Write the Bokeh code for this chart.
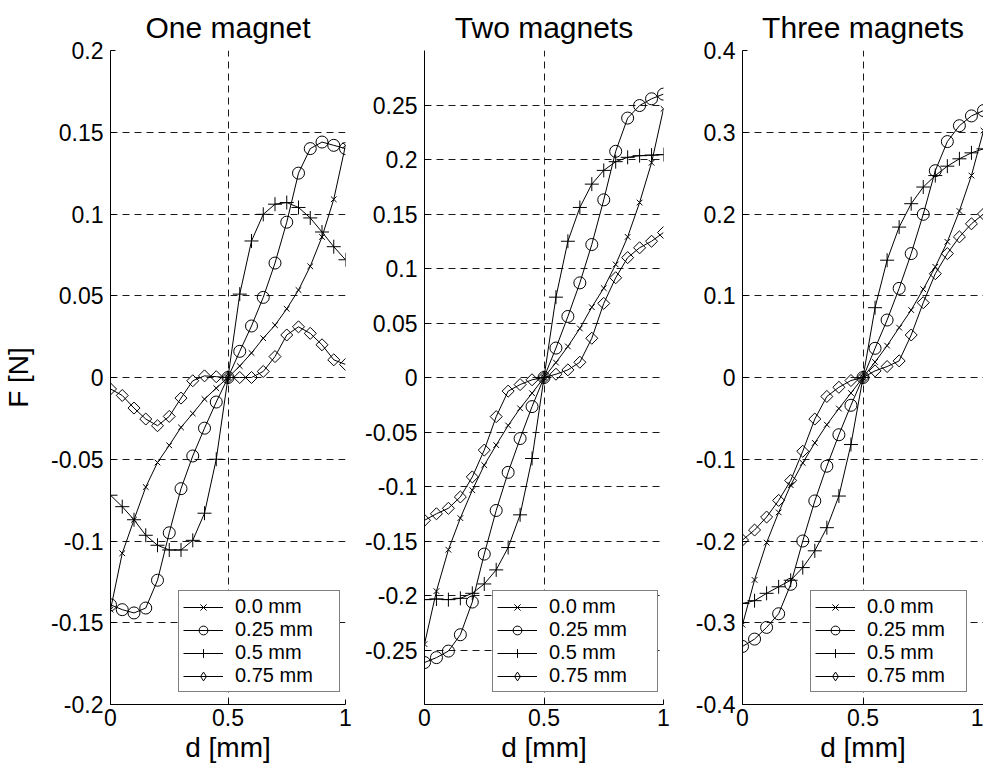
from bokeh.plotting import figure
from bokeh.layouts import row
from bokeh.models import Range1d, FixedTicker, Legend, LegendItem, CDSView, IndexFilter
from bokeh.embed import file_html
from bokeh.resources import INLINE

# ---------------- data ----------------
d = [0.0, 0.05, 0.1, 0.15, 0.2, 0.25, 0.3, 0.35, 0.4, 0.45, 0.5,
     0.55, 0.6, 0.65, 0.7, 0.75, 0.8, 0.85, 0.9, 0.95, 1.0]

series_labels = ["0.0 mm", "0.25 mm", "0.5 mm", "0.75 mm"]

# One magnet
one_00 = [-0.142, -0.1075, -0.087, -0.067, -0.052, -0.0415, -0.0305, -0.022, -0.0132, -0.0065, 0.0,
          0.007, 0.015, 0.024, 0.032, 0.042, 0.0535, 0.068, 0.086, 0.109, 0.142]
one_25 = [-0.139, -0.142, -0.144, -0.141, -0.124, -0.095, -0.068, -0.048, -0.031, -0.015, 0.0,
          0.016, 0.0315, 0.049, 0.07, 0.095, 0.125, 0.14, 0.144, 0.142, 0.14]
one_50 = [-0.072, -0.079, -0.087, -0.0965, -0.1026, -0.1055, -0.1055, -0.0996, -0.083, -0.05, 0.0,
          0.051, 0.0835, 0.0998, 0.106, 0.107, 0.104, 0.0976, 0.089, 0.080, 0.072]
one_75 = [-0.007, -0.011, -0.0187, -0.0254, -0.0295, -0.0238, -0.0126, -0.002, 0.001, 0.0005, 0.0,
          0.0, 0.0, 0.0037, 0.0128, 0.026, 0.031, 0.027, 0.02, 0.0108, 0.008]

# Two magnets
two_00 = [-0.2446, -0.196, -0.158, -0.129, -0.1034, -0.0804, -0.062, -0.044, -0.0283, -0.0144, 0.0,
          0.0137, 0.0285, 0.045, 0.0645, 0.082, 0.1037, 0.129, 0.1605, 0.197, 0.2465]
two_25 = [-0.2615, -0.257, -0.251, -0.236, -0.206, -0.162, -0.122, -0.087, -0.056, -0.0267, 0.0,
          0.027, 0.056, 0.0868, 0.122, 0.163, 0.2075, 0.238, 0.2495, 0.2557, 0.26]
two_50 = [-0.2038, -0.2032, -0.2038, -0.2026, -0.198, -0.1894, -0.1765, -0.156, -0.126, -0.0743, 0.0,
          0.0737, 0.125, 0.156, 0.1774, 0.19, 0.198, 0.202, 0.2035, 0.204, 0.2045]
two_75 = [-0.131, -0.125, -0.12, -0.1096, -0.0912, -0.0666, -0.0359, -0.0125, -0.0065, -0.0021, 0.0,
          0.003, 0.007, 0.014, 0.036, 0.068, 0.0915, 0.11, 0.119, 0.125, 0.133]

# Three magnets
three_00 = [-0.3024, -0.2476, -0.202, -0.165, -0.1317, -0.1045, -0.08, -0.0577, -0.038, -0.019, 0.0,
            0.019, 0.039, 0.061, 0.0825, 0.108, 0.1354, 0.166, 0.2037, 0.247, 0.302]
three_25 = [-0.329, -0.32, -0.3057, -0.289, -0.253, -0.2, -0.151, -0.1085, -0.07, -0.034, 0.0,
            0.0357, 0.0703, 0.109, 0.1516, 0.1996, 0.253, 0.2886, 0.308, 0.32, 0.3265]
three_50 = [-0.2764, -0.273, -0.264, -0.256, -0.248, -0.2325, -0.212, -0.1837, -0.145, -0.082, 0.0,
            0.0854, 0.1435, 0.184, 0.2126, 0.233, 0.247, 0.2585, 0.2675, 0.2748, 0.2797]
three_75 = [-0.1988, -0.1866, -0.1707, -0.1504, -0.126, -0.0902, -0.0508, -0.0232, -0.012, -0.0037, 0.0,
            0.0081, 0.0134, 0.0203, 0.052, 0.0915, 0.127, 0.1516, 0.172, 0.188, 0.2]

x_ticks = [0, 0.5, 1]
x_tick_labels = ["0", "0.5", "1"]

one_yticks = [-0.2, -0.15, -0.1, -0.05, 0, 0.05, 0.1, 0.15, 0.2]
one_ylabels = ["-0.2", "-0.15", "-0.1", "-0.05", "0", "0.05", "0.1", "0.15", "0.2"]
two_yticks = [-0.25, -0.2, -0.15, -0.1, -0.05, 0, 0.05, 0.1, 0.15, 0.2, 0.25]
two_ylabels = ["-0.25", "-0.2", "-0.15", "-0.1", "-0.05", "0", "0.05", "0.1", "0.15", "0.2", "0.25"]
three_yticks = [-0.4, -0.3, -0.2, -0.1, 0, 0.1, 0.2, 0.3, 0.4]
three_ylabels = ["-0.4", "-0.3", "-0.2", "-0.1", "0", "0.1", "0.2", "0.3", "0.4"]

FONT = "Liberation Sans"

# plot markers; "leg" is the marker shown in the legend swatch
MARKERS = [
    dict(marker="x", size=8, angle=0.0, leg=None),
    dict(marker="circle", size=12, angle=0.0, leg=None),
    dict(marker="cross", size=14, angle=0.0, leg=None),
    dict(marker="square", size=8.5, angle=0.7853981634, leg="diamond"),
]
CENTER = 10  # index of the d = 0.5 sample, where every curve crosses zero


def panel(title, ys, ylim, yticks, ylabels, ylabel, width, bl, br, label_width):
    p = figure(width=width, height=765, x_range=Range1d(0, 1), y_range=Range1d(*ylim),
               output_backend="svg", toolbar_location=None,
               min_border_left=bl, min_border_right=br, min_border_top=50, min_border_bottom=61,
               title=title)
    p.outline_line_color = None
    p.background_fill_color = "white"
    p.border_fill_color = "white"

    p.title.align = "center"
    p.title.text_font = FONT
    p.title.text_font_size = "30px"
    p.title.text_font_style = "normal"
    p.title.text_color = "black"
    p.title.standoff = 14

    for ax in (p.xaxis[0], p.yaxis[0]):
        ax.axis_line_color = "black"
        ax.axis_line_width = 1
        ax.major_tick_in = 5
        ax.major_tick_out = 0
        ax.major_tick_line_color = "black"
        ax.minor_tick_line_color = None
        ax.major_label_text_font = FONT
        ax.major_label_text_font_size = "23px"
        ax.major_label_text_color = "black"
        ax.axis_label_text_font = FONT
        ax.axis_label_text_font_size = "28px"
        ax.axis_label_text_font_style = "normal"
        ax.axis_label_text_color = "black"

    p.xaxis.ticker = FixedTicker(ticks=x_ticks)
    p.xaxis.major_label_overrides = {t: s for t, s in zip(x_ticks, x_tick_labels)}
    p.xaxis.axis_label = "d [mm]"
    p.xaxis.major_label_standoff = 4
    p.xaxis.axis_label_standoff = 3

    p.yaxis.ticker = FixedTicker(ticks=yticks)
    p.yaxis.major_label_overrides = {t: s for t, s in zip(yticks, ylabels)}
    p.yaxis.major_label_standoff = 7
    if ylabel:
        p.yaxis.axis_label = ylabel
        p.yaxis.axis_label_standoff = 14

    for g, t in ((p.xgrid, x_ticks), (p.ygrid, yticks)):
        g.ticker = FixedTicker(ticks=t)
        g.grid_line_color = "#1a1a1a"
        g.grid_line_dash = "7 5"
        g.grid_line_width = 1

    items = []
    for y, lab, mk in zip(ys, series_labels, MARKERS):
        ln = p.line(d, y, line_color="black", line_width=1)
        sc = p.scatter(d, y, marker=mk["marker"], size=mk["size"], angle=mk["angle"],
                       line_color="black", line_width=1, fill_color=None)
        if mk["leg"] is None:
            items.append(LegendItem(label=lab, renderers=[ln, sc]))
        else:
            # legend swatch for the rotated marker: only the shared centre sample is drawn
            sw = p.scatter(d, y, marker=mk["leg"], size=mk["size"],
                           line_color="black", line_width=1, fill_color=None,
                           view=CDSView(filter=IndexFilter(indices=[CENTER])))
            items.append(LegendItem(label=lab, renderers=[ln, sw]))

    leg = Legend(items=items, location=(68, 12))
    leg.label_text_font = FONT
    leg.label_text_font_size = "20px"
    leg.label_text_color = "black"
    leg.glyph_width = 40
    leg.glyph_height = 22
    leg.label_height = 22
    leg.label_width = label_width
    leg.label_standoff = 12
    leg.padding = 4
    leg.spacing = 0
    leg.margin = 0
    leg.border_line_color = "black"
    leg.border_line_width = 1.5
    leg.background_fill_color = "white"
    leg.background_fill_alpha = 1.0
    p.add_layout(leg)
    return p


p1 = panel("One magnet", [one_00, one_25, one_50, one_75], (-0.2, 0.2),
           one_yticks, one_ylabels, "F [N]", 355, 105, 10, 100)
p2 = panel("Two magnets", [two_00, two_25, two_50, two_75], (-0.3, 0.3),
           two_yticks, two_ylabels, None, 318, 69, 10, 104)
p3 = panel("Three magnets", [three_00, three_25, three_50, three_75], (-0.4, 0.4),
           three_yticks, three_ylabels, None, 310, 69, 0, 95)

layout = row(p1, p2, p3, spacing=0)
open("out.html", "w").write(file_html(layout, INLINE))
